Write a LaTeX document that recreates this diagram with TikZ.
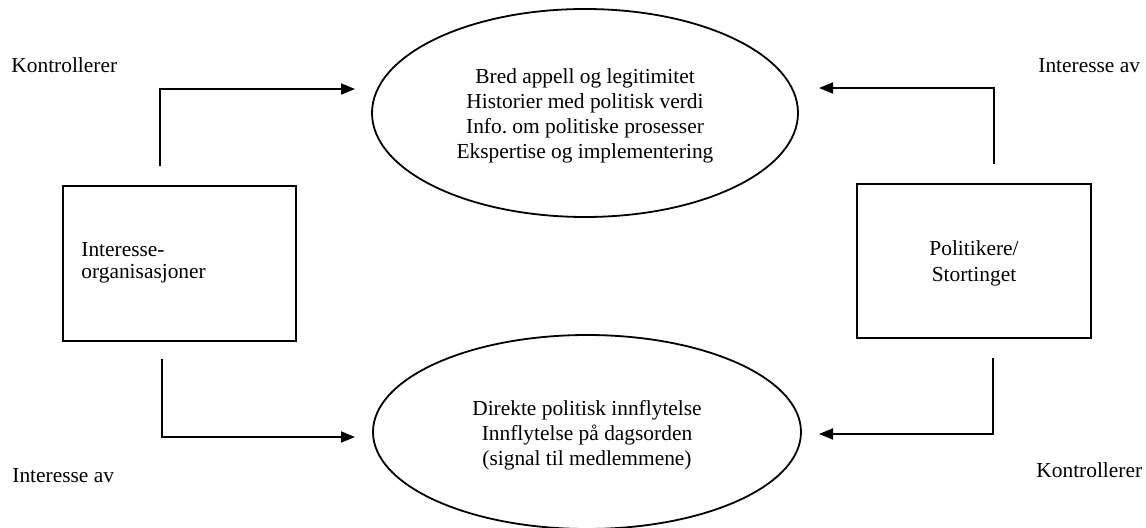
\documentclass[tikz,border=0pt]{standalone}
\usepackage{fontspec}
\setmainfont{Liberation Serif}
\usetikzlibrary{arrows.meta,shapes.geometric}
\begin{document}
\begin{tikzpicture}[x=0.5pt,y=-0.5pt,
  lbl/.style={inner sep=0pt,font=\fontsize{10.7}{12.5}\selectfont},
  oval/.style={draw,line width=0.9pt,ellipse,inner sep=0pt},
  boxnode/.style={draw,line width=0.9pt,inner sep=0pt},
  conn/.style={line width=0.9pt,-{Triangle[length=7pt,width=5.5pt]}}]
\useasboundingbox (0,0) rectangle (1146,528);
% ellipses
\node[oval,minimum width=213pt,minimum height=104pt] (top) at (585,113) {};
\node[lbl,align=center] (toptext) at (585,116) {Bred appell og legitimitet\\Historier med politisk verdi\\Info.\ om politiske prosesser\\Ekspertise og implementering};
\node[oval,minimum width=214pt,minimum height=97pt] (bot) at (587,432) {};
\node[lbl,align=center] (bottext) at (587,435) {Direkte politisk innflytelse\\Innflytelse på dagsorden\\(signal til medlemmene)};
% boxes
\node[boxnode,minimum width=116.5pt,minimum height=77.5pt] (left) at (179.5,263.5) {};
\node[lbl,align=left,anchor=west,font=\fontsize{10.7}{10.8}\selectfont] (lefttext) at (81,263) {Interesse-\\organisasjoner};
\node[boxnode,minimum width=117pt,minimum height=77pt] (right) at (974,261) {};
\node[lbl,align=center,font=\fontsize{10.7}{13}\selectfont] (righttext) at (974,263) {Politikere/\\Stortinget};
% labels
\node[lbl,anchor=base west] (l1) at (11,73) {Kontrollerer};
\node[lbl,anchor=base west] (l2) at (1038,73) {Interesse av};
\node[lbl,anchor=base west] (l3) at (12,483) {Interesse av};
\node[lbl,anchor=base west] (l4) at (1036,478) {Kontrollerer};
% connector ends
\coordinate (a1) at (160,166);
\coordinate (a2) at (355,89);
\coordinate (b1) at (162,359);
\coordinate (b2) at (355,437);
\coordinate (c1) at (994,164);
\coordinate (c2) at (819,88);
\coordinate (d1) at (993,358);
\coordinate (d2) at (819,434);
\draw[conn] (a1) |- (a2);
\draw[conn] (b1) |- (b2);
\draw[conn] (c1) |- (c2);
\draw[conn] (d1) |- (d2);
\end{tikzpicture}
\end{document}
